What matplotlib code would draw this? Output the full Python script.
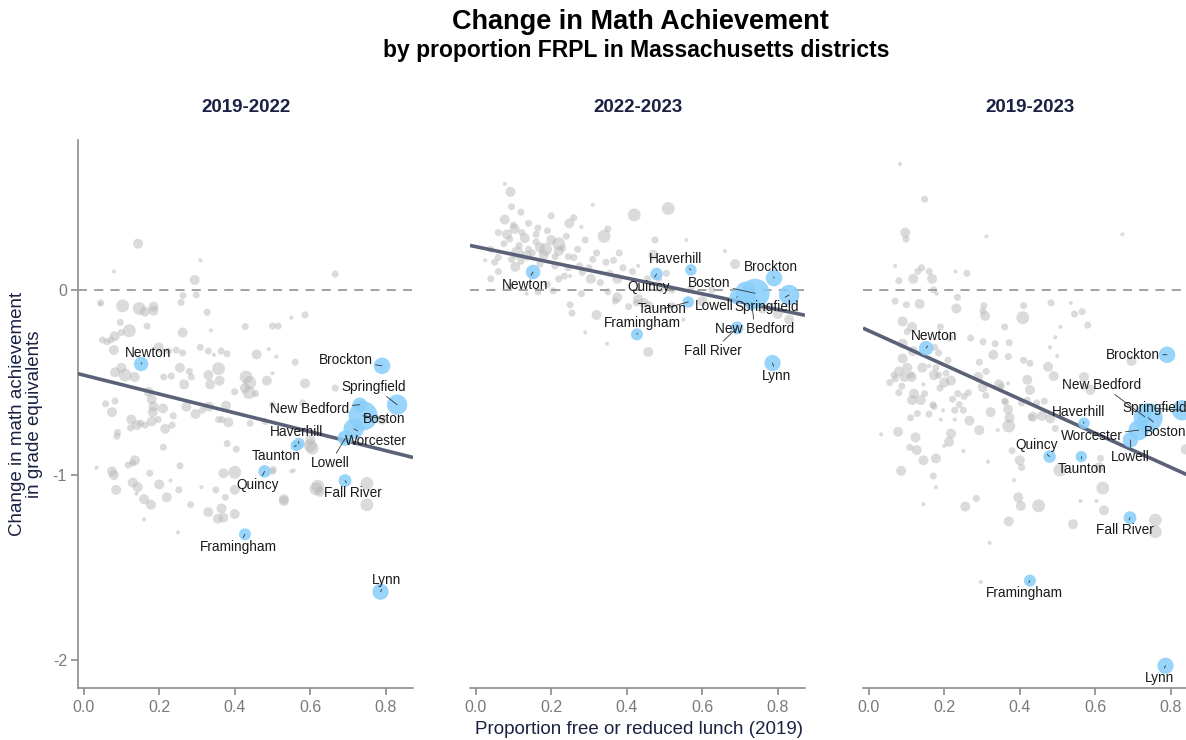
import matplotlib
matplotlib.use("Agg")
import matplotlib.pyplot as plt

plt.rcParams['font.family'] = ['Liberation Sans', 'DejaVu Sans']
plt.rcParams['axes.unicode_minus'] = False

panels = ["2019-2022", "2022-2023", "2019-2023"]

# highlighted districts
cities = ["Newton", "Quincy", "Haverhill", "Taunton", "Framingham", "Brockton",
          "Springfield", "New Bedford", "Boston", "Worcester", "Lowell", "Fall River", "Lynn"]
city_frpl = [0.152, 0.479, 0.570, 0.563, 0.427, 0.790, 0.830, 0.731, 0.740, 0.715, 0.693, 0.692, 0.786]
city_enroll = [12.7, 9.5, 8.0, 7.9, 8.8, 16.5, 25.0, 12.8, 51.0, 25.0, 14.5, 10.0, 16.0]  # thousands
city_chg_1922 = [-0.40, -0.98, -0.83, -0.84, -1.32, -0.41, -0.62, -0.62, -0.68, -0.75, -0.80, -1.03, -1.63]
city_chg_2223 = [0.097, 0.086, 0.108, -0.065, -0.24, 0.064, -0.027, -0.07, -0.018, -0.01, -0.037, -0.205, -0.395]
city_chg_1923 = [-0.315, -0.90, -0.72, -0.90, -1.57, -0.35, -0.65, -0.685, -0.69, -0.757, -0.81, -1.23, -2.03]
city_shown = [cities, [c for c in cities if c != "Worcester"], cities]

# linear fit (intercept, slope)
fit_intercept = [-0.46, 0.234, -0.22]
fit_slope = [-0.51, -0.425, -0.923]

# other districts: (frpl, change, enrollment band)
band_enroll = {1: 1.0, 2: 3.0, 3: 6.0, 4: 10.0}

others_1922 = [
    (0.144, 0.25, 3), (0.309, 0.16, 1), (0.080, 0.10, 1), (0.294, 0.054, 3), (0.298, -0.027, 2),
    (0.263, -0.030, 2), (0.258, -0.067, 2), (0.044, -0.074, 1), (0.103, -0.086, 4), (0.147, -0.100, 4),
    (0.162, -0.117, 3), (0.185, -0.090, 3), (0.185, -0.112, 3), (0.327, -0.120, 2), (0.097, -0.175, 2),
    (0.121, -0.220, 4), (0.100, -0.230, 2), (0.082, -0.250, 3), (0.062, -0.280, 2), (0.072, -0.270, 2),
    (0.168, -0.195, 2), (0.262, -0.230, 3), (0.337, -0.218, 1), (0.428, -0.198, 2), (0.080, -0.324, 3),
    (0.199, -0.310, 3), (0.225, -0.330, 2), (0.245, -0.325, 2), (0.262, -0.340, 2), (0.309, -0.310, 2),
    (0.330, -0.330, 2), (0.345, -0.350, 1), (0.364, -0.330, 2), (0.380, -0.345, 2), (0.100, -0.420, 3),
    (0.083, -0.445, 3), (0.110, -0.460, 4), (0.135, -0.470, 3), (0.212, -0.470, 2), (0.232, -0.465, 2),
    (0.255, -0.420, 3), (0.266, -0.510, 3), (0.280, -0.440, 2), (0.285, -0.470, 2), (0.330, -0.460, 3),
    (0.335, -0.510, 3), (0.357, -0.425, 4), (0.360, -0.490, 3), (0.430, -0.470, 4), (0.427, -0.530, 3),
    (0.400, -0.550, 2), (0.172, -0.550, 3), (0.180, -0.590, 3), (0.185, -0.630, 3), (0.210, -0.640, 3),
    (0.183, -0.660, 3), (0.197, -0.700, 2), (0.180, -0.710, 3), (0.237, -0.680, 2), (0.216, -0.750, 3),
    (0.234, -0.730, 2), (0.083, -0.600, 2), (0.058, -0.615, 2), (0.075, -0.660, 3), (0.272, -0.630, 3),
    (0.296, -0.670, 3), (0.314, -0.650, 2), (0.332, -0.630, 3), (0.377, -0.625, 3), (0.357, -0.700, 2),
    (0.366, -0.700, 2), (0.383, -0.715, 3), (0.126, -0.700, 3), (0.141, -0.730, 3), (0.151, -0.720, 2),
    (0.163, -0.730, 2), (0.124, -0.745, 2), (0.090, -0.770, 2), (0.088, -0.790, 2), (0.404, -0.860, 2),
    (0.211, -0.850, 2), (0.136, -0.920, 3), (0.130, -0.935, 2), (0.118, -0.945, 2), (0.034, -0.960, 1),
    (0.080, -1.000, 3), (0.175, -0.990, 2), (0.255, -0.950, 2), (0.400, -0.985, 4), (0.086, -1.080, 3),
    (0.143, -1.065, 3), (0.252, -1.080, 2), (0.312, -1.065, 1), (0.178, -1.160, 3), (0.283, -1.160, 2),
    (0.375, -1.120, 2), (0.370, -1.230, 3), (0.400, -1.210, 3), (0.666, 0.086, 2), (0.586, -0.135, 2),
    (0.550, -0.150, 1), (0.500, -0.195, 2), (0.515, -0.195, 2), (0.458, -0.348, 3), (0.490, -0.320, 1),
    (0.510, -0.360, 1), (0.560, -0.390, 2), (0.500, -0.450, 1), (0.485, -0.490, 3), (0.586, -0.505, 3),
    (0.440, -0.500, 4), (0.438, -0.555, 4), (0.455, -0.560, 2), (0.500, -0.620, 2), (0.580, -0.610, 2),
    (0.666, -0.530, 2), (0.441, -0.720, 2), (0.480, -0.710, 2), (0.600, -0.810, 3), (0.605, -0.855, 4),
    (0.502, -0.970, 2), (0.556, -0.975, 1), (0.620, -1.060, 4), (0.625, -1.090, 3), (0.750, -1.045, 4),
    (0.750, -1.160, 4), (0.530, -1.130, 3), (0.790, -0.700, 3), (0.075, -0.980, 3), (0.130, -1.040, 3),
    (0.140, -1.100, 1), (0.160, -1.130, 3), (0.160, -1.240, 1), (0.200, -1.050, 3), (0.220, -1.120, 3),
    (0.230, -1.030, 1), (0.250, -1.310, 1), (0.330, -1.200, 3), (0.355, -1.235, 3), (0.365, -1.180, 3),
    (0.370, -0.990, 3), (0.350, -1.080, 2), (0.400, -1.080, 3), (0.530, -1.140, 3), (0.550, -0.980, 1),
    (0.500, -0.980, 2), (0.615, -1.075, 4), (0.600, -0.840, 4), (0.380, -0.830, 2), (0.045, -0.070, 2),
    (0.050, -0.270, 2),
]

others_2223 = [
    (0.077, 0.573, 1), (0.092, 0.530, 3), (0.095, 0.450, 2), (0.120, 0.420, 2), (0.077, 0.380, 3),
    (0.100, 0.350, 2), (0.103, 0.330, 3), (0.060, 0.310, 2), (0.083, 0.300, 3), (0.090, 0.275, 2),
    (0.122, 0.310, 2), (0.075, 0.250, 2), (0.115, 0.240, 2), (0.310, 0.460, 1), (0.260, 0.390, 2),
    (0.248, 0.360, 3), (0.280, 0.340, 1), (0.340, 0.290, 4), (0.350, 0.330, 2), (0.420, 0.405, 4),
    (0.510, 0.440, 4), (0.475, 0.270, 2), (0.170, 0.230, 3), (0.185, 0.220, 4), (0.160, 0.260, 2),
    (0.140, 0.220, 2), (0.150, 0.200, 2), (0.180, 0.190, 3), (0.210, 0.180, 2), (0.230, 0.225, 2),
    (0.245, 0.180, 2), (0.260, 0.175, 2), (0.040, 0.220, 2), (0.060, 0.175, 2), (0.025, 0.160, 1),
    (0.050, 0.150, 2), (0.095, 0.165, 2), (0.120, 0.155, 2), (0.105, 0.125, 3), (0.275, 0.130, 2),
    (0.300, 0.120, 2), (0.320, 0.200, 2), (0.310, 0.165, 2), (0.345, 0.150, 2), (0.365, 0.160, 2),
    (0.380, 0.200, 2), (0.390, 0.120, 2), (0.415, 0.100, 2), (0.220, 0.060, 2), (0.235, 0.075, 2),
    (0.250, 0.075, 1), (0.282, 0.095, 2), (0.305, 0.060, 3), (0.330, 0.040, 2), (0.355, 0.090, 2),
    (0.375, 0.060, 3), (0.090, 0.020, 2), (0.135, -0.020, 1), (0.165, -0.010, 2), (0.190, 0.030, 2),
    (0.205, -0.005, 2), (0.250, -0.080, 2), (0.255, -0.125, 2), (0.280, -0.020, 2), (0.320, -0.135, 3),
    (0.350, -0.010, 2), (0.375, -0.040, 3), (0.370, -0.060, 2), (0.405, -0.090, 2), (0.348, -0.290, 1),
    (0.558, 0.270, 1), (0.470, 0.190, 3), (0.660, 0.210, 1), (0.687, 0.140, 3), (0.430, 0.130, 1),
    (0.505, 0.090, 2), (0.485, 0.060, 2), (0.455, 0.060, 2), (0.430, -0.050, 3), (0.445, -0.070, 3),
    (0.460, -0.080, 2), (0.425, -0.070, 2), (0.520, 0.000, 2), (0.490, 0.005, 2), (0.520, -0.085, 2),
    (0.570, 0.010, 2), (0.600, -0.060, 3), (0.625, 0.000, 2), (0.760, -0.100, 3), (0.830, -0.160, 3),
    (0.457, -0.335, 3), (0.550, -0.160, 1), (0.290, -0.230, 1), (0.800, -0.130, 3), (0.130, 0.280, 3),
    (0.160, 0.300, 2), (0.200, 0.270, 3), (0.220, 0.250, 4), (0.190, 0.320, 2), (0.240, 0.290, 2),
    (0.135, 0.185, 3), (0.270, 0.220, 2), (0.290, 0.270, 2), (0.210, 0.130, 2), (0.170, 0.140, 2),
    (0.060, 0.100, 2), (0.040, 0.060, 2), (0.150, 0.080, 2), (0.245, 0.120, 2), (0.140, 0.360, 2),
    (0.200, 0.400, 2), (0.220, 0.210, 3), (0.165, 0.335, 2), (0.110, 0.200, 4),
]

others_1923 = [
    (0.083, 0.680, 1), (0.148, 0.490, 2), (0.097, 0.310, 3), (0.099, 0.275, 2), (0.312, 0.290, 1),
    (0.672, 0.300, 1), (0.070, 0.130, 1), (0.140, 0.120, 2), (0.130, 0.100, 2), (0.160, 0.100, 2),
    (0.230, 0.100, 1), (0.260, 0.090, 2), (0.080, 0.050, 2), (0.118, 0.060, 3), (0.168, 0.060, 3),
    (0.172, 0.000, 2), (0.180, -0.020, 1), (0.070, -0.060, 2), (0.100, -0.080, 2), (0.135, -0.075, 3),
    (0.235, -0.040, 2), (0.232, -0.100, 3), (0.305, -0.085, 2), (0.303, -0.115, 2), (0.308, -0.140, 3),
    (0.410, -0.085, 2), (0.408, -0.150, 4), (0.483, -0.070, 2), (0.535, -0.070, 1), (0.545, -0.130, 2),
    (0.360, -0.200, 2), (0.508, -0.200, 1), (0.580, -0.190, 2), (0.090, -0.170, 3), (0.115, -0.200, 3),
    (0.102, -0.225, 2), (0.190, -0.200, 2), (0.215, -0.260, 2), (0.270, -0.260, 2), (0.090, -0.290, 3),
    (0.117, -0.330, 3), (0.090, -0.370, 3), (0.142, -0.420, 3), (0.095, -0.470, 3), (0.113, -0.460, 2),
    (0.303, -0.280, 2), (0.335, -0.290, 2), (0.372, -0.285, 2), (0.330, -0.350, 3), (0.370, -0.360, 2),
    (0.410, -0.380, 2), (0.293, -0.390, 2), (0.290, -0.470, 3), (0.420, -0.485, 3), (0.475, -0.415, 3),
    (0.480, -0.310, 1), (0.175, -0.310, 2), (0.185, -0.340, 2), (0.210, -0.380, 2), (0.160, -0.410, 1),
    (0.185, -0.460, 2), (0.205, -0.450, 2), (0.067, -0.460, 2), (0.088, -0.520, 2), (0.120, -0.560, 3),
    (0.148, -0.560, 2), (0.173, -0.630, 2), (0.345, -0.510, 3), (0.310, -0.570, 2), (0.362, -0.605, 2),
    (0.420, -0.595, 2), (0.465, -0.600, 2), (0.445, -0.610, 2), (0.240, -0.620, 2), (0.222, -0.590, 2),
    (0.170, -0.620, 2), (0.570, -0.470, 3), (0.080, -0.440, 3), (0.056, -0.500, 2), (0.071, -0.480, 2),
    (0.102, -0.420, 3), (0.114, -0.470, 3), (0.173, -0.460, 3), (0.200, -0.500, 3), (0.218, -0.490, 3),
    (0.178, -0.420, 2), (0.145, -0.510, 1), (0.080, -0.555, 2), (0.138, -0.595, 3), (0.115, -0.595, 3),
    (0.189, -0.530, 2), (0.236, -0.560, 2), (0.253, -0.575, 2), (0.264, -0.555, 2), (0.311, -0.440, 2),
    (0.302, -0.525, 3), (0.351, -0.520, 2), (0.369, -0.505, 1), (0.360, -0.600, 2), (0.369, -0.645, 3),
    (0.323, -0.660, 3), (0.373, -0.690, 3), (0.129, -0.667, 2), (0.160, -0.670, 2), (0.197, -0.650, 1),
    (0.228, -0.650, 2), (0.251, -0.650, 2), (0.111, -0.690, 2), (0.191, -0.700, 1), (0.228, -0.700, 1),
    (0.267, -0.706, 3), (0.427, -0.540, 3), (0.431, -0.688, 2), (0.405, -0.610, 2), (0.293, -0.757, 3),
    (0.342, -0.757, 1), (0.371, -0.735, 4), (0.078, -0.766, 3), (0.033, -0.780, 1), (0.124, -0.796, 3),
    (0.218, -0.775, 3), (0.213, -0.820, 3), (0.200, -0.843, 1), (0.109, -0.850, 2), (0.127, -0.865, 3),
    (0.145, -0.920, 3), (0.178, -0.910, 3), (0.251, -0.870, 1), (0.086, -0.977, 3), (0.171, -1.005, 2),
    (0.178, -1.066, 1), (0.316, -0.928, 1), (0.380, -0.869, 2), (0.400, -0.920, 3), (0.405, -0.958, 2),
    (0.385, -1.027, 1), (0.396, -1.120, 3), (0.403, -1.166, 3), (0.285, -1.126, 2), (0.256, -1.170, 3),
    (0.371, -1.250, 3), (0.145, -1.157, 1), (0.320, -1.366, 1), (0.450, -1.166, 4), (0.297, -1.577, 1),
    (0.541, -1.265, 3), (0.561, -1.140, 1), (0.603, -1.140, 1), (0.620, -1.070, 4), (0.623, -1.190, 3),
    (0.614, -0.910, 2), (0.610, -0.958, 3), (0.506, -0.973, 4), (0.759, -1.243, 4), (0.759, -1.306, 4),
    (0.839, -0.861, 3), (0.565, -0.117, 2), (0.494, -0.256, 1), (0.499, -0.357, 1), (0.427, -0.396, 2),
    (0.490, -0.465, 3), (0.587, -0.540, 3), (0.570, -0.520, 2), (0.696, -0.384, 3), (0.435, -0.685, 3),
    (0.459, -0.680, 3), (0.481, -0.694, 3), (0.494, -0.748, 2),
]

others = [others_1922, others_2223, others_1923]
city_chg = [city_chg_1922, city_chg_2223, city_chg_1923]

# label placement (pixel offsets from the point, y down)
label_offsets = [
    {"Newton": (7, -11), "Quincy": (-7, 14), "Haverhill": (-2, -12), "Taunton": (-20, 11),
     "Framingham": (-7, 13), "Brockton": (-36, -6), "Springfield": (-23, -18), "New Bedford": (-50, 4),
     "Boston": (21, 3), "Worcester": (22, 12), "Lowell": (-15, 25), "Fall River": (8, 12), "Lynn": (6, -12)},
    {"Newton": (-8, 13), "Quincy": (-8, 13), "Haverhill": (-15, -11), "Taunton": (-26, 7),
     "Framingham": (5, -11), "Brockton": (-3, -11), "Springfield": (-22, 12), "New Bedford": (3, 26),
     "Boston": (-46, -10), "Lowell": (-23, 9), "Fall River": (-24, 23), "Lynn": (4, 13)},
    {"Newton": (8, -12), "Quincy": (-13, -12), "Haverhill": (-5, -11), "Taunton": (1, 12),
     "Framingham": (-6, 12), "Brockton": (-34, 0), "Springfield": (-27, -2), "New Bedford": (-43, -32),
     "Boston": (17, 14), "Worcester": (-47, 6), "Lowell": (0, 17), "Fall River": (-5, 12), "Lynn": (-6, 12)},
]

W, H = 1186, 740
fig = plt.figure(figsize=(W / 100, H / 100), dpi=100)

navy = "#1b2142"
axis_grey = "#8c8c8c"
panel_left = [78, 470, 863]
panel_w, panel_top, panel_bottom = 335, 140, 688
size_per_k = 8.6  # marker area (pt^2) per thousand students

fig.text(640 / W, 1 - 22 / H, "Change in Math Achievement", ha="center", va="center",
         fontsize=19.5, fontweight="bold", color="black")
fig.text(636 / W, 1 - 50 / H, "by proportion FRPL in Massachusetts districts", ha="center", va="center",
         fontsize=16.5, fontweight="bold", color="black")

for i, name in enumerate(panels):
    ax = fig.add_axes([panel_left[i] / W, (H - panel_bottom) / H, panel_w / W,
                       (panel_bottom - panel_top) / H])
    ax.set_xlim(-0.015, 0.872)
    ax.set_ylim(-2.15, 0.81)

    gx = [p[0] for p in others[i]]
    gy = [p[1] for p in others[i]]
    gs = [band_enroll[p[2]] * size_per_k for p in others[i]]
    ax.scatter(gx, gy, s=gs, color="#b8b8b8", alpha=0.5, linewidths=0, zorder=2)

    ax.axhline(0, color="#9a9a9a", lw=1.3, ls=(0, (5, 4)), zorder=3)

    xs = [-0.015, 0.872]
    ax.plot(xs, [fit_intercept[i] + fit_slope[i] * x for x in xs], color="#5b6277", lw=2.6,
            zorder=4, solid_capstyle="butt")

    ax.scatter(city_frpl, city_chg[i], s=[e * size_per_k for e in city_enroll], color="#87CEFA",
               alpha=0.85, linewidths=0, zorder=5)

    for c, x, y in zip(cities, city_frpl, city_chg[i]):
        if c not in city_shown[i]:
            continue
        dx, dy = label_offsets[i][c]
        ax.annotate(c, (x, y), xytext=(dx, -dy), textcoords="offset pixels",
                    ha="center", va="center", fontsize=9.8, color="#1a1a1a", zorder=6,
                    arrowprops=dict(arrowstyle="-", color="#333333", lw=0.6, shrinkA=0, shrinkB=0))

    ax.text(0.5, 1 + 32 / (panel_bottom - panel_top), name, transform=ax.transAxes,
            ha="center", va="center", fontsize=13.5, fontweight="bold", color=navy)

    for s in ["top", "right"]:
        ax.spines[s].set_visible(False)
    ax.spines["bottom"].set_color(axis_grey)
    ax.spines["bottom"].set_linewidth(1.2)
    ax.set_xticks([0.0, 0.2, 0.4, 0.6, 0.8])
    ax.set_xticklabels(["0.0", "0.2", "0.4", "0.6", "0.8"])
    ax.tick_params(axis="x", colors=axis_grey, labelcolor="#7a7a7a", labelsize=11.5,
                   length=5, width=1.2, pad=4)
    if i == 0:
        ax.spines["left"].set_color(axis_grey)
        ax.spines["left"].set_linewidth(1.2)
        ax.set_yticks([0, -1, -2])
        ax.set_yticklabels(["0", "-1", "-2"])
        ax.tick_params(axis="y", colors=axis_grey, labelcolor="#7a7a7a", labelsize=11.5,
                       length=5, width=1.2, pad=3)
    else:
        ax.spines["left"].set_visible(False)
        ax.set_yticks([])
    ax.patch.set_alpha(0)

fig.text(26 / W, 1 - 414 / H, "Change in math achievement\nin grade equivalents", rotation=90,
         ha="center", va="center", fontsize=13.5, color=navy, linespacing=1.0)
fig.text(639 / W, 1 - 730 / H, "Proportion free or reduced lunch (2019)", ha="center",
         va="center", fontsize=13.5, color=navy)

fig.savefig("out.png", dpi=100)
